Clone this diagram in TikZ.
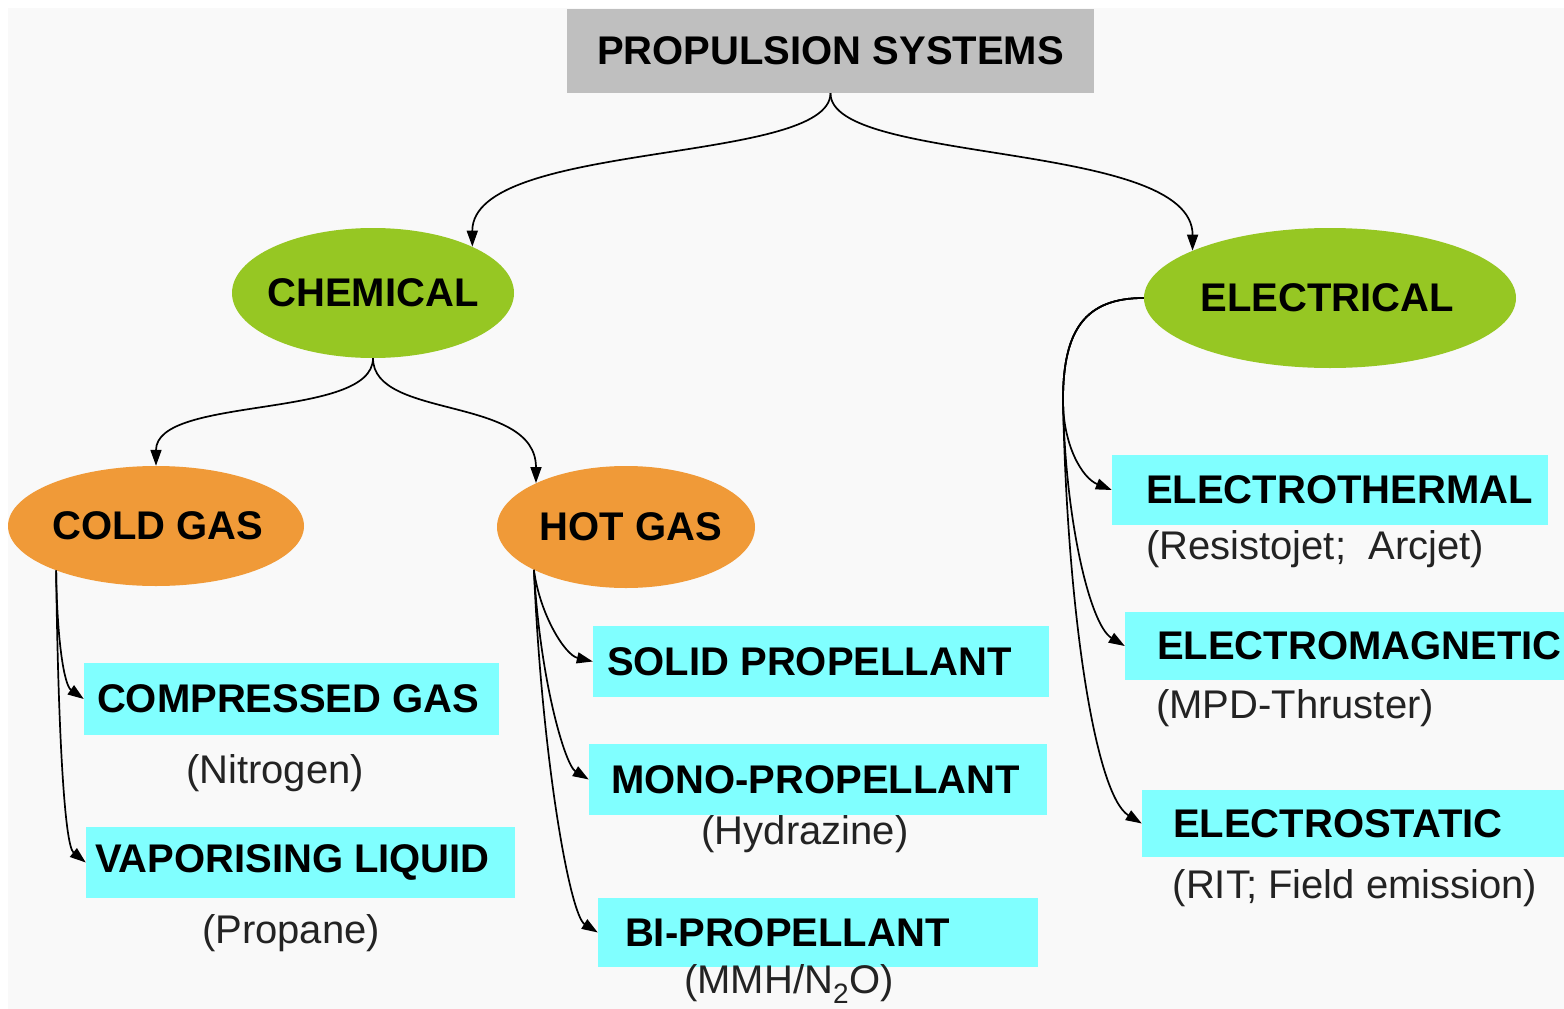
\documentclass[tikz,border=0pt]{standalone}
\usepackage{fontspec}
\setmainfont{Liberation Sans}
\usetikzlibrary{shapes.geometric,arrows.meta}
\definecolor{bgcol}{RGB}{249,249,249}
\definecolor{psgray}{RGB}{191,191,191}
\definecolor{leafgreen}{RGB}{150,199,35}
\definecolor{gasorange}{RGB}{240,154,56}
\definecolor{boxcyan}{RGB}{128,255,255}
\definecolor{subtext}{RGB}{35,35,35}
\newcommand\padtext[2]{\makebox[#1][l]{#2}}
\begin{document}
\begin{tikzpicture}[x=1pt,y=-1pt,
  big/.style={font=\fontsize{40}{44}\selectfont\bfseries, text=black},
  sub/.style={font=\fontsize{40}{44}\selectfont, text=subtext, inner sep=0pt},
  oval/.style={ellipse, draw=none, inner sep=0pt},
  leafbox/.style={rectangle, draw=none, fill=boxcyan, inner ysep=0pt, big},
  conn/.style={draw=black, line width=1.7pt, -{Triangle[length=16pt,width=11pt]}}
]
\useasboundingbox (0,0) rectangle (1564,1009);
\fill[bgcol] (8,8) rectangle (1564,1009);

% root
\node[rectangle, fill=psgray, minimum width=527pt, minimum height=84pt, inner sep=0pt, big] (ps) at (830.5,51) {PROPULSION SYSTEMS};

% ellipses
\node[oval, fill=leafgreen, minimum width=282pt, minimum height=130pt, label={[big]center:CHEMICAL}] (chem) at (373,293) {};
\node[oval, fill=leafgreen, minimum width=372pt, minimum height=140pt, label={[big, xshift=-3pt]center:ELECTRICAL}] (elec) at (1330,298) {};
\node[oval, fill=gasorange, minimum width=296pt, minimum height=120pt, label={[big, xshift=2pt]center:COLD GAS}] (cg) at (156,526) {};
\node[oval, fill=gasorange, minimum width=258pt, minimum height=122pt, label={[big, xshift=5pt]center:HOT GAS}] (hg) at (626,527) {};

% leaf boxes
\node[leafbox, inner xsep=13pt, minimum height=72pt] (cp) at (291.5,699) {\padtext{389pt}{COMPRESSED GAS}};
\node[leafbox, inner xsep=9pt, minimum height=71pt] (vl) at (300.5,862.5) {\padtext{411pt}{VAPORISING LIQUID}};
\node[leafbox, inner xsep=14pt, minimum height=71pt] (sp) at (821,661.5) {\padtext{428pt}{SOLID PROPELLANT}};
\node[leafbox, inner xsep=22pt, minimum height=71pt] (mp) at (818,779.5) {\padtext{414pt}{MONO-PROPELLANT}};
\node[leafbox, inner xsep=27pt, minimum height=69pt] (bp) at (818,932.5) {\padtext{386pt}{BI-PROPELLANT}};
\node[leafbox, inner xsep=34pt, minimum height=70pt] (et) at (1330,490) {\padtext{368pt}{ELECTROTHERMAL}};
\node[leafbox, inner xsep=32pt, minimum height=68pt] (em) at (1347.5,646) {\padtext{381pt}{ELECTROMAGNETIC}};
\node[leafbox, inner xsep=31pt, minimum height=67pt] (es) at (1356,823.5) {\padtext{366pt}{ELECTROSTATIC}};

% sub labels
\node[sub] (n2) at (275,773) {(Nitrogen)};
\node[sub] (pr) at (291,933) {(Propane)};
\node[sub] (hy) at (805,834) {(Hydrazine)};
\node[sub] (mm) at (789,984) {(MMH/N\textsubscript{2}O)};
\node[sub] (ra) at (1315,549) {(Resistojet;~~Arcjet)};
\node[sub] (mpd) at (1295,708) {(MPD-Thruster)};
\node[sub] (rit) at (1355,888) {(RIT; Field emission)};

% connectors
\draw[conn] (ps.south) .. controls (830,165) and (472,140) .. (chem.25);
\draw[conn] (ps.south) .. controls (830,165) and (1193,140) .. (elec.161);
\draw[conn] (chem.south) .. controls (373,420) and (156,395) .. (cg.north);
\draw[conn] (chem.south) .. controls (373,420) and (536,395) .. (hg.154);

\draw[conn] (cg.204) .. controls (57,640) and (64,685) .. (cp.west);
\draw[conn] (cg.204) .. controls (58,720) and (64,845) .. (vl.west);

\draw[conn] (hg.205) .. controls (540,615) and (565,655) .. (sp.west);
\draw[conn] (hg.205) .. controls (540,680) and (565,765) .. (mp.west);
\draw[conn] (hg.205) .. controls (542,760) and (570,915) .. (bp.west);

\draw[conn] (elec.west) .. controls (1085,298) and (1063,330) .. (1063,400)
  .. controls (1063,445) and (1082,478) .. (et.west);
\draw[conn] (elec.west) .. controls (1085,298) and (1063,330) .. (1063,400)
  .. controls (1065,520) and (1090,625) .. (em.west);
\draw[conn] (elec.west) .. controls (1085,298) and (1063,330) .. (1063,400)
  .. controls (1067,610) and (1095,795) .. (es.west);
\end{tikzpicture}
\end{document}
